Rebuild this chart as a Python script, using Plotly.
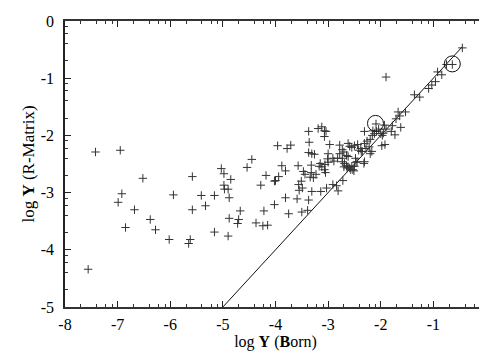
import math

import plotly.graph_objects as go

# log Y (Born) vs log Y (R-Matrix)
born = [
    -7.56, -7.42, -6.95, -6.92, -6.99, -6.68, -6.85, -6.52, -6.38, -6.28,
    -6.02, -5.94, -5.58, -5.58, -5.62, -5.65, -5.41, -5.33, -5.16, -5.16,
    -5.03, -4.98, -4.98, -4.97, -4.90, -4.90, -4.85, -4.88, -4.88, -4.70,
    -4.72, -4.67, -4.54, -4.45, -4.37, -4.28, -4.22, -4.24, -4.15, -4.18,
    -4.02, -4.02, -3.96, -3.78, -3.71, -3.88, -3.81, -3.94, -4.00, -3.81,
    -3.75, -3.57, -3.59, -3.50, -3.39, -3.37,
    -3.37, -3.19, -3.12, -3.07, -3.04, -3.07, -3.36, -3.37, -3.31, -3.26,
    -3.00, -2.97, -2.78, -2.73, -2.62, -2.59, -2.55, -2.50, -2.44, -2.78,
    -2.70, -2.65, -2.62, -2.73, -2.89, -2.82, -2.91, -3.01, -3.00, -3.06,
    -3.15, -3.12, -3.07, -3.05, -3.17, -3.32, -3.23, -3.32, -3.34, -3.28,
    -3.47, -3.44, -3.51, -3.56, -3.55, -3.49, -3.31, -3.14, -3.03, -2.91,
    -2.84, -2.81, -2.72, -2.73, -2.69, -2.65, -2.62, -2.70, -2.64, -2.59,
    -2.55, -2.51, -2.47, -2.48, -2.45, -2.50, -2.53, -2.57, -2.32, -2.31,
    -2.37, -2.35, -2.28, -2.22, -2.17, -2.20, -2.31, -2.31, -2.26, -2.20,
    -2.42, -2.38, -2.09, -2.15, -2.12, -2.16, -2.08, -2.04, -2.00, -1.95,
    -1.97, -1.90, -1.93, -1.80, -1.98, -1.92, -1.78, -1.73, -1.71, -1.64,
    -1.67, -1.62, -1.53, -1.90, -1.36, -1.26, -1.09, -1.03, -0.96, -0.92,
    -0.84, -0.75, -0.64, -0.45,
]
rmatrix = [
    -4.34, -2.29, -2.26, -3.02, -3.17, -3.30, -3.61, -2.75, -3.47, -3.65,
    -3.82, -3.04, -2.72, -3.30, -3.82, -3.89, -3.05, -3.23, -3.05, -3.69,
    -2.58, -2.67, -2.87, -2.94, -2.94, -3.76, -2.77, -3.09, -3.45, -3.47,
    -3.54, -3.32, -2.56, -2.42, -3.53, -2.87, -3.32, -3.58, -3.57, -2.70,
    -2.80, -3.21, -2.18, -2.23, -2.17, -2.53, -2.62, -2.72, -2.79, -3.09,
    -3.37, -2.53, -3.11, -3.34, -3.31, -3.13,
    -1.93, -1.88, -1.85, -1.92, -1.93, -2.02, -2.12, -2.30, -2.32, -2.33,
    -2.32, -2.16, -2.17, -2.25, -2.14, -2.19, -2.21, -2.18, -2.16, -2.32,
    -2.29, -2.35, -2.37, -2.40, -2.45, -2.40, -2.40, -2.41, -2.47, -2.51,
    -2.49, -2.55, -2.60, -2.65, -2.54, -2.52, -2.68, -2.65, -2.73, -2.74,
    -2.63, -2.68, -2.80, -2.86, -2.96, -2.92, -2.98, -2.98, -2.92, -2.86,
    -2.88, -2.97, -2.79, -2.46, -2.49, -2.53, -2.55, -2.55, -2.57, -2.57,
    -2.54, -2.62, -2.47, -2.40, -2.46, -2.54, -2.60, -2.60, -2.49, -2.46,
    -2.28, -2.28, -2.23, -2.20, -2.28, -2.32, -1.93, -2.14, -2.10, -2.07,
    -2.26, -2.23, -1.80, -1.92, -1.97, -2.00, -1.93, -1.89, -1.97, -1.96,
    -2.00, -1.89, -1.82, -1.93, -2.18, -2.16, -1.83, -1.99, -1.71, -1.66,
    -1.59, -1.86, -1.59, -0.98, -1.29, -1.33, -1.18, -1.12, -1.06, -0.89,
    -0.94, -0.76, -0.76, -0.47,
]

# y = x reference line
line_x = [-5.0, -0.45]
line_y = [-5.0, -0.45]

# circled transitions
circle_x = [-2.10, -0.64]
circle_y = [-1.79, -0.75]

x_ticks = [-8, -7, -6, -5, -4, -3, -2, -1, 0]
x_labels = ["-8", "-7", "-6", "-5", "-4", "-3", "-2", "-1", "0"]
y_ticks = [-5, -4, -3, -2, -1, 0]
y_labels = ["-5", "-4", "-3", "-2", "-1", "0"]
minor_steps = [2, 4, 6, 8]

x_minor = [n + math.log10(k) for n in range(-8, 0) for k in minor_steps]
y_minor = [n + math.log10(k) for n in range(-5, 0) for k in minor_steps]

FONT = "Liberation Serif"
tick_font = dict(family=FONT, size=16, color="black")

fig = go.Figure()
fig.add_trace(go.Scatter(
    x=line_x, y=line_y, mode="lines",
    line=dict(color="#111", width=1), showlegend=False,
))
fig.add_trace(go.Scatter(
    x=born, y=rmatrix, mode="markers",
    marker=dict(symbol="cross-thin", size=6, line=dict(color="#333", width=1)),
    showlegend=False,
))
fig.add_trace(go.Scatter(
    x=circle_x, y=circle_y, mode="markers",
    marker=dict(symbol="circle-open", size=16, color="#111", line=dict(width=1)),
    showlegend=False,
))

fig.update_layout(
    width=487, height=353,
    margin=dict(l=57, r=5, t=6, b=54),
    paper_bgcolor="white", plot_bgcolor="white",
    font=dict(family=FONT, size=16, color="black"),
)
fig.update_xaxes(
    range=[-8, 0], tickvals=x_ticks, ticktext=x_labels, tickfont=tick_font,
    ticks="inside", ticklen=6, tickcolor="#222",
    minor=dict(tickvals=x_minor, ticks="inside", ticklen=3, tickcolor="#333"),
    showline=True, linewidth=2, linecolor="#333", mirror="ticks",
    showgrid=False, zeroline=False, ticklabelstandoff=2,
    ticklabeloverflow="allow",
    title=dict(text="log <b>Y</b> (<b>B</b>orn)", standoff=2,
               font=dict(family=FONT, size=16)),
)
fig.update_yaxes(
    range=[-5, 0], tickvals=y_ticks, ticktext=y_labels, tickfont=tick_font,
    ticks="inside", ticklen=6, tickcolor="#222",
    minor=dict(tickvals=y_minor, ticks="inside", ticklen=3, tickcolor="#333"),
    showline=True, linewidth=1.5, linecolor="#222", mirror="ticks",
    showgrid=False, zeroline=False, ticklabelstandoff=6,
    ticklabeloverflow="allow",
    title=dict(text="log <b>Y</b> (R-Matrix)", standoff=2,
               font=dict(family=FONT, size=17)),
)

fig.write_html("out.html")
